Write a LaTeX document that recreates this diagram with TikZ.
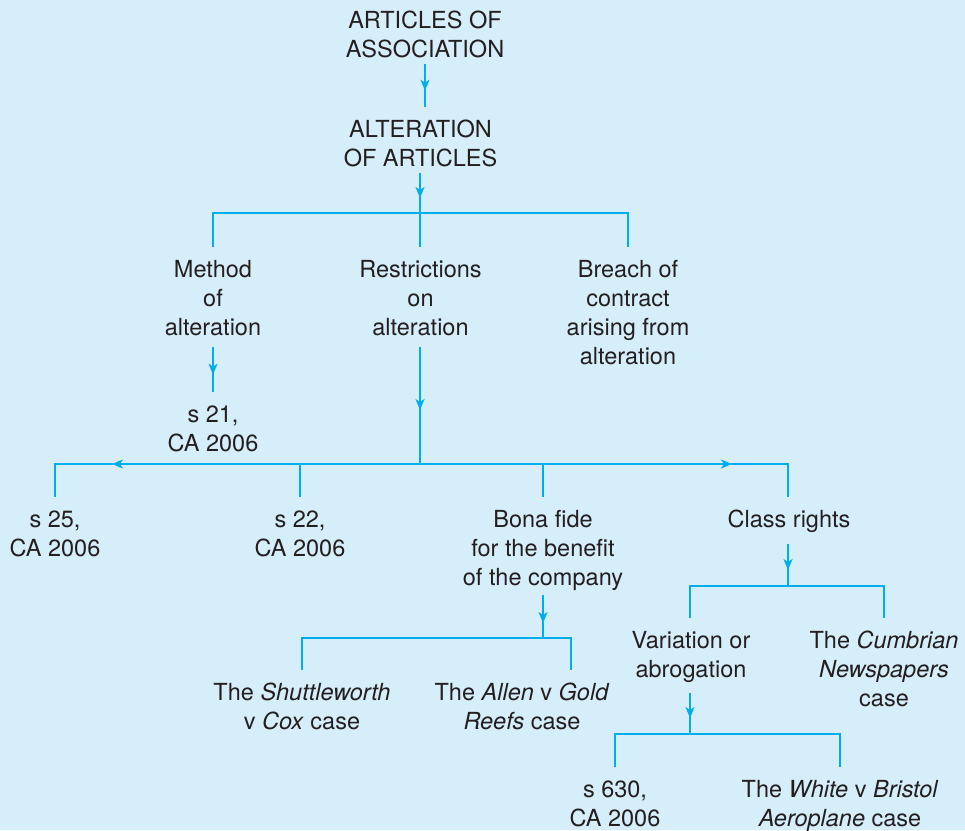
\documentclass[tikz,border=0pt]{standalone}
\usepackage{fontspec}
\setmainfont{TeX Gyre Heros}
\usetikzlibrary{arrows.meta,decorations.markings}
\definecolor{bgblue}{RGB}{214,237,250}
\definecolor{linecyan}{RGB}{0,174,239}
\definecolor{inkdark}{RGB}{35,31,32}
\tikzset{
  lbl/.style={anchor=base,inner sep=0pt,outer sep=0pt,text=inkdark,
    font=\fontsize{23.5}{29}\selectfont},
  link/.style={draw=linecyan,line width=1.6pt},
  tipat/.style={postaction={decorate,decoration={markings,
    mark=at position #1 with {\arrow{Stealth[length=11pt,width=9pt,inset=3pt]}}}}}
}
\newcommand{\lines}[1]{\setlength{\tabcolsep}{0pt}\begin{tabular}[t]{c}#1\end{tabular}}
\begin{document}
\begin{tikzpicture}[x=1pt,y=-1pt]
\fill[bgblue] (0,0) rectangle (965,830);
\useasboundingbox (0,0) rectangle (965,830);

% nodes (x = centre, y = first baseline)
\node[lbl] (A)  at (425,28)  {\lines{ARTICLES OF\\ASSOCIATION}};
\node[lbl] (B)  at (420.5,137) {\lines{ALTERATION\\OF ARTICLES}};
\node[lbl] (C1) at (213,277) {\lines{Method\\of\\alteration}};
\node[lbl] (C2) at (420.5,277) {\lines{Restrictions\\on\\alteration}};
\node[lbl] (C3) at (628,277) {\lines{Breach of\\contract\\arising from\\alteration}};
\node[lbl] (S21) at (213,422) {\lines{s 21,\\CA 2006}};
\node[lbl] (D1) at (55,527)  {\lines{s 25,\\CA 2006}};
\node[lbl] (D2) at (300,527) {\lines{s 22,\\CA 2006}};
\node[lbl] (D3) at (543,527) {\lines{Bona fide\\for the benefit\\of the company}};
\node[lbl] (D4) at (789,527) {\lines{Class rights}};
\node[lbl] (E1) at (302,700) {\lines{The \textit{Shuttleworth}\\v \textit{Cox} case}};
\node[lbl] (E2) at (522,700) {\lines{The \textit{Allen} v \textit{Gold}\\\textit{Reefs} case}};
\node[lbl] (F1) at (691,648) {\lines{Variation or\\abrogation}};
\node[lbl] (F2) at (884,648) {\lines{The \textit{Cumbrian}\\\textit{Newspapers}\\case}};
\node[lbl] (G1) at (615,797) {\lines{s 630,\\CA 2006}};
\node[lbl] (G2) at (840,797) {\lines{The \textit{White} v \textit{Bristol}\\\textit{Aeroplane} case}};

% junction points
\coordinate (j1) at (420,213);
\coordinate (j2) at (420,464);
\coordinate (j3) at (543,638);
\coordinate (j4) at (788,586);
\coordinate (j5) at (690,734);
\coordinate (e2top) at (571,670);

% A -> B
\draw[link,tipat=-16pt] ([yshift=2pt]A.south) -- ([yshift=10pt]A.south |- B.north);
% B -> bus 1
\draw[link,tipat=-15pt] ([yshift=2pt]B.south -| j1) -- (j1);
\draw[link] ([yshift=10pt]C1.north) |- (j1) -| ([yshift=10pt]C3.north);
\draw[link] (j1) -- ([yshift=10pt]C2.north -| j1);
% method -> s 21
\draw[link,tipat=-17pt] ([yshift=-3pt]C1.south) -- ([yshift=10pt]S21.north);
% restrictions -> bus 2
\draw[link,tipat=-54pt] ([yshift=-3pt]C2.south -| j2) -- (j2);
\draw[link,tipat=308pt] (j2) -| ([yshift=10pt]D1.north);
\draw[link,tipat=312pt] (j2) -| ([yshift=10pt]D4.north -| j4);
\draw[link] ([yshift=10pt]D2.north) -- (D2.north |- j2);
\draw[link] ([yshift=10pt]D3.north) -- (D3.north |- j2);
% bona fide -> bus 3
\draw[link,tipat=-15pt] ([yshift=-1pt]D3.south) -- (j3);
\draw[link] ([yshift=10pt]E1.north) |- (j3) -| (e2top);
% class rights -> bus 4
\draw[link,tipat=-16pt] ([yshift=-8pt]D4.south -| j4) -- (j4);
\draw[link] ([yshift=10pt]F1.north -| j5) |- (j4) -| ([yshift=10pt]F2.north);
% variation -> bus 5
\draw[link,tipat=-16pt] ([yshift=-7pt]F1.south -| j5) -- (j5);
\draw[link] ([yshift=10pt]G1.north) |- (j5) -| ([yshift=10pt]G2.north);
\end{tikzpicture}
\end{document}
